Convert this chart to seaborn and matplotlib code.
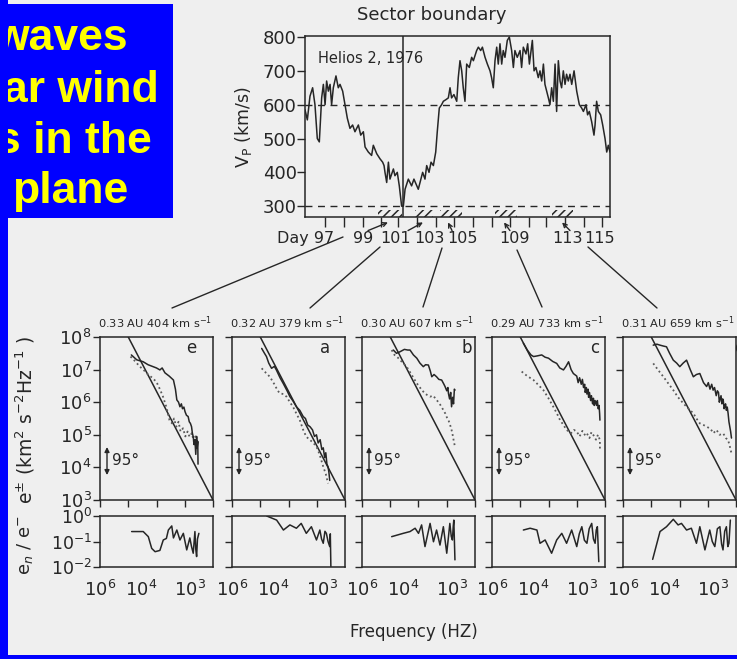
import numpy as np
import matplotlib
matplotlib.use("Agg")
import matplotlib.pyplot as plt
from matplotlib.patches import Rectangle
from matplotlib.lines import Line2D
from matplotlib.ticker import LogLocator, NullFormatter
import seaborn as sns

W, H = 737, 659
BG = "#efefef"
INK = "#262626"
DOT = "#5a5a5a"

# ---------------- top panel : Helios 2 proton speed ----------------
day = [96.00, 96.15, 96.32, 96.49, 96.64, 96.79, 96.92, 97.07, 97.18, 97.29,
       97.39, 97.50, 97.61, 97.71, 97.82, 97.99, 98.14, 98.25, 98.42, 98.57,
       98.72, 98.89, 99.06, 99.21, 99.43, 99.58, 99.75, 99.86, 100.07, 100.28,
       100.39, 100.61, 100.82, 100.99, 101.08, 101.14, 101.25, 101.36, 101.46, 101.68,
       101.78, 101.93, 102.06, 102.21, 102.32, 102.43, 102.64, 102.85, 103.00, 103.28,
       103.39, 103.56, 103.71, 103.82, 103.97, 104.10, 104.25, 104.40, 104.50, 104.63,
       104.78, 104.89, 105.06, 105.21, 105.32, 105.42, 105.57, 105.75, 105.85, 105.96,
       106.07, 106.17, 106.28, 106.39, 106.56, 106.71, 106.82, 107.03, 107.14, 107.29,
       107.40, 107.57, 107.72, 107.89, 107.99, 108.10, 108.21, 108.32, 108.42, 108.53,
       108.64, 108.74, 108.85, 109.00, 109.13, 109.28, 109.39, 109.49, 109.64, 109.82,
       109.92, 110.03, 110.20, 110.31, 110.42, 110.61, 110.72, 110.84, 110.99, 111.10,
       111.21, 111.32, 111.42, 111.53, 111.64, 111.74, 111.85, 111.96, 112.07, 112.17,
       112.28, 112.39, 112.49, 112.60, 112.71, 112.81, 112.92, 113.03, 113.14, 113.29,
       113.46, 113.63, 113.78, 113.89, 114.06, 114.16, 114.27, 114.42, 114.57, 114.64,
       114.74, 114.85, 115.00, 115.13, 115.28, 115.39, 115.49, 115.60]
vp = [585, 555, 625, 650, 600, 500, 490, 620, 660, 600,
      670, 640, 660, 600, 650, 685, 650, 660, 640, 600,
      560, 530, 540, 520, 540, 510, 520, 475, 460, 450,
      480, 455, 440, 430, 420, 400, 370, 430, 380, 410,
      390, 400, 360, 300, 300, 350, 380, 360, 380, 350,
      370, 400, 380, 420, 400, 430, 420, 460, 520, 590,
      600, 610, 615, 620, 650, 620, 630, 610, 680, 730,
      700, 650, 610, 720, 710, 740, 730, 760, 770, 760,
      770, 740, 720, 700, 680, 650, 730, 770, 720, 780,
      720, 760, 740, 790, 800, 760, 710, 760, 740, 760,
      710, 770, 750, 780, 720, 790, 700, 710, 680, 700,
      670, 720, 660, 640, 620, 600, 650, 610, 720, 580,
      730, 670, 650, 700, 660, 690, 670, 690, 660, 700,
      640, 600, 590, 580, 600, 570, 580, 550, 510, 540,
      610, 580, 570, 540, 500, 460, 480, 460]

vp_ticks = [300, 400, 500, 600, 700, 800]
vp_levels = [300, 600]
sector_day = 102.32
day_label_pos = [96.02, 99.76, 101.80, 104.00, 106.15, 109.45, 112.85, 114.96]
day_labels = ["Day 97", "99", "101", "103", "105", "109", "113", "115"]
day_marks = [97.3, 98.5, 99.7, 100.9, 102.0, 103.2, 104.4, 105.6, 106.8, 108.0,
             109.2, 110.4, 111.5, 112.7, 113.9, 115.1]
hatch_start = [100.69, 103.07, 104.67, 108.21, 111.87]
hatch_end = [102.23, 104.22, 106.08, 109.62, 113.22]
arrow_tail_day = [100.05, 102.62, 105.45, 109.17, 113.03]
arrow_head_day = [101.33, 103.58, 105.19, 108.79, 112.52]

# ---------------- spectra (log10 f , log10 e) ----------------
spec_ids = ["e", "a", "b", "c", "d"]
spec_heads = ["0.33 AU 404 km s$^{-1}$", "0.32 AU 379 km s$^{-1}$",
              "0.30 AU 607 km s$^{-1}$", "0.29 AU 733 km s$^{-1}$",
              "0.31 AU 659 km s$^{-1}$"]
letter_x = [0.81, 0.82, 0.93, 0.91, 1.03]

plus_e = [(-4.89, 7.45), (-4.70, 7.30), (-4.47, 7.24), (-4.30, 7.15), (-4.12, 7.09),
          (-4.00, 7.05), (-3.88, 6.99), (-3.80, 7.05), (-3.70, 6.90), (-3.55, 6.80),
          (-3.40, 6.68), (-3.33, 6.40), (-3.28, 6.07), (-3.22, 6.00), (-3.17, 5.86),
          (-3.12, 5.95), (-3.08, 5.80), (-3.03, 5.85), (-2.99, 5.71), (-2.94, 5.60),
          (-2.88, 5.56), (-2.84, 5.40), (-2.80, 5.35), (-2.76, 5.25), (-2.73, 5.05),
          (-2.70, 4.94), (-2.67, 4.70), (-2.64, 4.85), (-2.61, 4.40), (-2.58, 4.95),
          (-2.56, 4.60), (-2.54, 4.80), (-2.53, 4.10)]
minus_e = [(-4.92, 7.40), (-4.75, 7.25), (-4.60, 7.10), (-4.47, 7.00), (-4.30, 6.85),
           (-4.15, 6.75), (-4.00, 6.62), (-3.88, 6.40), (-3.77, 6.17), (-3.65, 5.85),
           (-3.54, 5.45), (-3.45, 5.35), (-3.38, 5.50), (-3.30, 5.25), (-3.22, 5.40),
           (-3.15, 5.10), (-3.06, 5.20), (-2.98, 4.95), (-2.90, 5.10), (-2.83, 4.94),
           (-2.75, 5.05), (-2.68, 4.80), (-2.62, 4.95), (-2.58, 4.74), (-2.55, 4.60)]
plus_a = [(-4.95, 7.65), (-4.85, 7.50), (-4.78, 7.40), (-4.70, 7.20), (-4.60, 7.04),
          (-4.50, 7.10), (-4.43, 6.99), (-4.30, 6.75), (-4.19, 6.58), (-4.05, 6.35),
          (-3.95, 6.17), (-3.85, 6.05), (-3.72, 5.86), (-3.60, 5.75), (-3.48, 5.56),
          (-3.40, 5.50), (-3.32, 5.30), (-3.24, 5.25), (-3.15, 5.15), (-3.08, 4.95),
          (-3.01, 5.00), (-2.95, 4.75), (-2.88, 4.85), (-2.82, 4.55), (-2.77, 4.60),
          (-2.72, 4.30), (-2.68, 4.45), (-2.64, 4.10), (-2.60, 4.02), (-2.57, 3.85),
          (-2.54, 3.60)]
minus_a = [(-4.95, 7.04), (-4.80, 6.90), (-4.66, 6.78), (-4.50, 6.55), (-4.38, 6.35),
           (-4.30, 6.27), (-4.18, 6.25), (-4.07, 6.17), (-3.95, 6.00), (-3.84, 5.86),
           (-3.72, 5.65), (-3.60, 5.45), (-3.48, 5.15), (-3.37, 4.94), (-3.25, 4.85),
           (-3.12, 4.75), (-3.01, 4.64), (-2.90, 4.40), (-2.77, 4.02), (-2.68, 3.80),
           (-2.60, 3.51)]
plus_b = [(-4.89, 7.60), (-4.78, 7.50), (-4.65, 7.55), (-4.50, 7.62), (-4.38, 7.60),
          (-4.30, 7.60), (-4.18, 7.45), (-4.06, 7.35), (-3.95, 7.20), (-3.83, 7.09),
          (-3.75, 7.15), (-3.65, 7.14), (-3.58, 6.95), (-3.53, 6.78), (-3.45, 6.85),
          (-3.36, 6.78), (-3.28, 6.70), (-3.18, 6.68), (-3.10, 6.55), (-3.06, 6.48),
          (-3.00, 6.35), (-2.96, 6.45), (-2.94, 6.27), (-2.90, 6.10), (-2.86, 6.30),
          (-2.83, 5.86), (-2.79, 6.15), (-2.76, 5.95), (-2.73, 6.40), (-2.71, 6.37)]
minus_b = [(-4.95, 7.60), (-4.85, 7.45), (-4.71, 7.35), (-4.55, 7.20), (-4.42, 7.09),
           (-4.25, 6.85), (-4.06, 6.58), (-3.88, 6.37), (-3.75, 6.25), (-3.59, 6.17),
           (-3.48, 6.20), (-3.36, 6.07), (-3.25, 5.95), (-3.12, 5.76), (-3.05, 5.65),
           (-2.98, 5.50), (-2.94, 5.45), (-2.88, 5.30), (-2.83, 5.15), (-2.78, 4.95),
           (-2.75, 4.80), (-2.71, 4.64)]
plus_c = [(-4.89, 7.81), (-4.75, 7.60), (-4.62, 7.45), (-4.53, 7.40), (-4.40, 7.42),
          (-4.24, 7.45), (-4.12, 7.38), (-4.00, 7.35), (-3.85, 7.25), (-3.71, 7.19),
          (-3.60, 7.05), (-3.47, 6.99), (-3.38, 7.10), (-3.29, 7.24), (-3.20, 7.00),
          (-3.12, 6.88), (-3.00, 6.80), (-2.95, 6.60), (-2.90, 6.75), (-2.84, 6.55),
          (-2.80, 6.70), (-2.76, 6.45), (-2.72, 6.55), (-2.70, 6.30), (-2.66, 6.45),
          (-2.64, 6.25), (-2.60, 6.40), (-2.58, 6.15), (-2.55, 6.30), (-2.51, 6.05),
          (-2.48, 6.20), (-2.44, 5.95), (-2.41, 6.12), (-2.38, 5.90), (-2.35, 6.05),
          (-2.30, 5.90), (-2.27, 6.05), (-2.24, 5.80), (-2.21, 5.90), (-2.19, 5.65),
          (-2.18, 5.45)]
minus_c = [(-4.95, 6.94), (-4.75, 6.80), (-4.53, 6.68), (-4.35, 6.52), (-4.18, 6.37),
           (-4.00, 6.12), (-3.83, 5.86), (-3.70, 5.65), (-3.59, 5.45), (-3.47, 5.30),
           (-3.36, 5.15), (-3.20, 5.05), (-3.10, 5.15), (-3.00, 5.10), (-2.90, 4.95),
           (-2.80, 5.12), (-2.70, 4.98), (-2.64, 5.04), (-2.55, 4.90), (-2.48, 5.08),
           (-2.41, 4.99), (-2.32, 4.85), (-2.25, 5.00), (-2.18, 4.84), (-2.18, 4.50)]
plus_d = [(-4.93, 7.75), (-4.80, 7.78), (-4.69, 7.75), (-4.56, 7.72), (-4.46, 7.70),
          (-4.35, 7.50), (-4.22, 7.29), (-4.10, 7.20), (-3.99, 7.09), (-3.87, 7.20),
          (-3.75, 7.29), (-3.62, 7.00), (-3.51, 6.78), (-3.40, 6.85), (-3.28, 6.88),
          (-3.15, 6.60), (-3.04, 6.48), (-2.98, 6.60), (-2.92, 6.40), (-2.86, 6.55),
          (-2.81, 6.37), (-2.76, 6.45), (-2.70, 6.20), (-2.66, 6.35), (-2.62, 6.30),
          (-2.59, 6.00), (-2.57, 6.07), (-2.53, 6.20), (-2.50, 5.95), (-2.47, 6.10),
          (-2.45, 6.05), (-2.42, 5.80), (-2.40, 5.86), (-2.37, 5.95), (-2.34, 5.75),
          (-2.31, 5.85), (-2.28, 5.66), (-2.25, 5.40), (-2.22, 5.25), (-2.19, 5.10),
          (-2.16, 4.90)]
minus_d = [(-4.93, 7.19), (-4.75, 6.98), (-4.57, 6.78), (-4.40, 6.58), (-4.22, 6.37),
           (-4.05, 6.15), (-3.86, 5.96), (-3.68, 5.80), (-3.51, 5.66), (-3.40, 5.50),
           (-3.28, 5.35), (-3.15, 5.30), (-3.04, 5.25), (-2.90, 5.18), (-2.80, 5.05),
           (-2.69, 5.15), (-2.58, 5.00), (-2.45, 5.04), (-2.36, 4.90), (-2.28, 4.84),
           (-2.22, 4.65), (-2.16, 4.43)]

# ratio e_n / e^- (log10 f , log10 ratio)
ratio_e = [(-4.88, -0.61), (-4.47, -0.61), (-4.29, -0.81), (-4.17, -1.27), (-4.05, -1.40),
           (-3.88, -1.35), (-3.76, -0.94), (-3.65, -0.88), (-3.58, -0.55), (-3.46, -0.39),
           (-3.40, -0.86), (-3.28, -0.55), (-3.17, -0.94), (-3.05, -0.68), (-2.93, -1.33),
           (-2.82, -0.86), (-2.76, -1.20), (-2.70, -1.46), (-2.64, -0.61), (-2.61, -1.30),
           (-2.58, -1.59), (-2.55, -0.90), (-2.50, -0.68)]
ratio_a = [(-4.77, 0.00), (-4.42, -0.16), (-4.18, -0.55), (-3.95, -0.35), (-3.72, -0.48),
           (-3.55, -0.29), (-3.37, -0.68), (-3.19, -0.42), (-3.01, -0.94), (-2.89, -0.55),
           (-2.83, -0.90), (-2.77, -1.07), (-2.71, -0.60), (-2.66, -0.68), (-2.60, -1.00),
           (-2.54, -1.20), (-2.52, -0.70), (-2.50, -1.98)]
ratio_b = [(-4.95, -0.81), (-4.54, -0.68), (-4.30, -0.61), (-4.12, -0.48), (-4.00, -0.68),
           (-3.89, -0.35), (-3.77, -1.20), (-3.59, -0.29), (-3.47, -1.01), (-3.36, -0.55),
           (-3.24, -1.14), (-3.12, -0.42), (-3.00, -1.46), (-2.89, -0.29), (-2.84, -0.80),
           (-2.80, -0.94), (-2.77, -0.40), (-2.75, -0.16), (-2.71, -1.72)]
ratio_c = [(-4.89, -0.55), (-4.65, -0.48), (-4.41, -0.55), (-4.30, -1.07), (-4.12, -0.94),
           (-3.89, -1.46), (-3.71, -0.94), (-3.53, -0.68), (-3.36, -1.07), (-3.18, -0.55),
           (-3.00, -1.20), (-2.91, -0.70), (-2.82, -0.42), (-2.73, -0.95), (-2.64, -1.07),
           (-2.56, -0.50), (-2.47, -0.29), (-2.41, -0.90), (-2.35, -1.07), (-2.31, -0.55),
           (-2.27, -0.42), (-2.22, -1.79)]
ratio_d = [(-4.95, -1.70), (-4.69, -0.61), (-4.46, -0.42), (-4.22, -0.13), (-4.05, -0.35),
           (-3.93, -0.29), (-3.75, -0.55), (-3.58, -0.48), (-3.40, -1.07), (-3.28, -0.42),
           (-3.10, -1.33), (-2.93, -0.55), (-2.84, -1.00), (-2.75, -1.20), (-2.66, -0.50),
           (-2.57, -0.42), (-2.51, -1.10), (-2.46, -1.33), (-2.40, -0.60), (-2.34, -0.42),
           (-2.29, -1.20), (-2.25, -1.07), (-2.20, -0.16)]

plus_spec = [plus_e, plus_a, plus_b, plus_c, plus_d]
minus_spec = [minus_e, minus_a, minus_b, minus_c, minus_d]
ratio_spec = [ratio_e, ratio_a, ratio_b, ratio_c, ratio_d]

# f^-5/3 reference line end points
ref_f = [1e-5, 1e-2]
ref_e = [1e8, 1e3]

e_ticks = [1e3, 1e4, 1e5, 1e6, 1e7, 1e8]
e_labels = ["10$^3$", "10$^4$", "10$^5$", "10$^6$", "10$^7$", "10$^8$"]
r_ticks = [1e-2, 1e-1, 1e0]
r_labels = ["10$^{-2}$", "10$^{-1}$", "10$^0$"]
f_label_pos = [1.02e-6, 2.8e-5, 1.55e-3]
f_labels = ["10$^6$", "10$^4$", "10$^3$"]

title_lines = ["waves", "ar wind", "s in the", "plane"]


def fig_box(left, top, right, bottom):
    """Pixel box -> figure fraction rectangle."""
    return [left / W, 1 - bottom / H, (right - left) / W, (bottom - top) / H]


sns.set_theme(style="ticks", rc={
    "axes.facecolor": BG,
    "figure.facecolor": BG,
    "axes.edgecolor": INK,
    "axes.linewidth": 1.1,
    "xtick.color": INK,
    "ytick.color": INK,
    "text.color": INK,
    "hatch.linewidth": 1.1,
})
plt.rcParams["font.family"] = ["DejaVu Sans"]
plt.rcParams["mathtext.fontset"] = "dejavusans"

fig = plt.figure(figsize=(W / 100, H / 100), dpi=100)

# ---- top time series ----
ax = fig.add_axes(fig_box(305, 36, 610, 217))
sns.lineplot(x=day, y=vp, ax=ax, color=INK, lw=1.1, estimator=None, sort=False)
for lev in vp_levels:
    ax.axhline(lev, color=INK, lw=1.0, dashes=(5, 4))
ax.axvline(sector_day, color=INK, lw=1.1)
ax.set_xlim(96.0, 115.6)
ax.set_ylim(268, 803)
ax.set_yticks(vp_ticks)
ax.set_xticks(day_label_pos, day_labels)
ax.set_xticks(day_marks, minor=True)
ax.tick_params(axis="x", which="major", length=0, labelsize=11.5, pad=10)
ax.tick_params(axis="x", which="minor", length=7, width=1, direction="out")
ax.tick_params(axis="y", labelsize=13, length=6, width=1, direction="out", pad=0)
ax.set_xlabel("")
ax.set_ylabel("")
trans = ax.get_xaxis_transform()
for s, e in zip(hatch_start, hatch_end):
    ax.add_patch(Rectangle((s, 0), e - s, 0.04, transform=trans, fill=False,
                           hatch="////", lw=0, edgecolor=INK))
for t, h in zip(arrow_tail_day, arrow_head_day):
    ax.annotate("", xy=(h, -0.03), xycoords=trans, xytext=(t, -0.075),
                textcoords=trans, annotation_clip=False,
                arrowprops=dict(arrowstyle="->", lw=1, color=INK,
                                shrinkA=0, shrinkB=0, mutation_scale=7))
ax.text(0.043, 0.873, "Helios 2, 1976", transform=ax.transAxes, fontsize=10.5,
        ha="left", va="center")
fig.text(432 / W, 1 - 15 / H, "Sector boundary", fontsize=13, ha="center", va="center")
fig.text(243 / W, 1 - 127 / H, "V$_\\mathrm{P}$ (km/s)", fontsize=12.5, rotation=90,
         ha="center", va="center")

# ---- connectors from the time series to the spectra ----
connectors = [((343, 237), (172, 308)), ((380, 247), (310, 308)),
              ((442, 248), (423, 307)), ((517, 250), (542, 307)),
              ((588, 247), (657, 308))]
for (x0, y0), (x1, y1) in connectors:
    fig.add_artist(Line2D([x0 / W, x1 / W], [1 - y0 / H, 1 - y1 / H],
                          transform=fig.transFigure, color=INK, lw=1.0))

# ---- spectra and ratio panels ----
spec_left = [100, 232, 362, 492, 623]
for i, left in enumerate(spec_left):
    sa = fig.add_axes(fig_box(left, 337, left + 113, 500))
    sa.set_xscale("log")
    sa.set_yscale("log")
    pf, pe = zip(*plus_spec[i])
    mf, me = zip(*minus_spec[i])
    sns.lineplot(x=ref_f, y=ref_e, ax=sa, color=INK, lw=1.1, estimator=None, sort=False)
    sns.lineplot(x=np.power(10.0, mf), y=np.power(10.0, me), ax=sa, color=DOT,
                 lw=1.3, linestyle=(0, (1, 1.6)), estimator=None, sort=False)
    sns.lineplot(x=np.power(10.0, pf), y=np.power(10.0, pe), ax=sa, color=INK,
                 lw=1.1, estimator=None, sort=False)
    sa.set_xlim(1e-6, 1e-2)
    sa.set_ylim(1e3, 1e8)
    sa.set_xticks([1e-6, 1e-5, 1e-4, 1e-3, 1e-2])
    sa.set_xticklabels([])
    sa.xaxis.set_minor_locator(LogLocator(base=10, subs=np.arange(2, 10)))
    sa.xaxis.set_minor_formatter(NullFormatter())
    sa.set_yticks(e_ticks)
    sa.yaxis.set_minor_locator(LogLocator(base=10, subs=np.arange(2, 10)))
    sa.yaxis.set_minor_formatter(NullFormatter())
    if i == 0:
        sa.set_yticklabels(e_labels)
    else:
        sa.set_yticklabels([])
    sa.tick_params(which="major", length=5, width=1, direction="out", labelsize=13, pad=1)
    sa.tick_params(which="minor", length=2.5, width=0.8, direction="out")
    sa.set_xlabel("")
    sa.set_ylabel("")
    sa.text(letter_x[i], 0.93, spec_ids[i], transform=sa.transAxes, fontsize=12,
            ha="center", va="center", clip_on=False)
    sa.text(-0.02, 1.085, spec_heads[i], transform=sa.transAxes, fontsize=8.2,
            ha="left", va="center")
    sa.annotate("", xy=(0.062, 0.153), xytext=(0.062, 0.325), xycoords="axes fraction",
                arrowprops=dict(arrowstyle="<|-|>", lw=1, color=INK,
                                shrinkA=0, shrinkB=0, mutation_scale=7))
    sa.text(0.11, 0.24, "95°", transform=sa.transAxes, fontsize=11,
            ha="left", va="center")

    ra = fig.add_axes(fig_box(left, 516, left + 113, 567))
    ra.set_xscale("log")
    ra.set_yscale("log")
    rf, rr = zip(*ratio_spec[i])
    sns.lineplot(x=np.power(10.0, rf), y=np.power(10.0, rr), ax=ra, color=INK,
                 lw=1.1, estimator=None, sort=False)
    ra.set_xlim(1e-6, 1e-2)
    ra.set_ylim(1e-2, 1e0)
    ra.set_xticks(f_label_pos, f_labels)
    ra.xaxis.set_minor_locator(LogLocator(base=10, subs=np.arange(1, 10)))
    ra.xaxis.set_minor_formatter(NullFormatter())
    ra.set_yticks(r_ticks)
    ra.yaxis.set_minor_locator(plt.NullLocator())
    if i == 0:
        ra.set_yticklabels(r_labels)
    else:
        ra.set_yticklabels([])
    ra.tick_params(axis="x", which="major", length=0, labelsize=13, pad=9)
    ra.tick_params(axis="x", which="minor", length=2.5, width=0.8, direction="out")
    ra.tick_params(axis="y", length=5, width=1, direction="out", labelsize=12.5, pad=1)
    ra.set_xlabel("")
    ra.set_ylabel("")

fig.text(25 / W, 1 - 420 / H, "e$^{\\pm}$ (km$^2$ s$^{-2}$Hz$^{-1}$ )", fontsize=13.5,
         rotation=90, ha="center", va="center")
fig.text(25 / W, 1 - 545 / H, "e$_n$ / e$^{-}$", fontsize=13, rotation=90,
         ha="center", va="center")
fig.text(414 / W, 1 - 632 / H, "Frequency (HZ)", fontsize=12, ha="center", va="center")

# ---- slide decoration: blue frame and clipped title box ----
fig.add_artist(Rectangle((0, 0), 8 / W, 1, transform=fig.transFigure,
                         color="#0000ff", lw=0, zorder=5))
fig.add_artist(Rectangle((0, 0), 1, 4 / H, transform=fig.transFigure,
                         color="#0000ff", lw=0, zorder=5))
box = fig.add_axes(fig_box(0, 4, 173, 218))
box.set_facecolor("#0000ff")
box.set_xticks([])
box.set_yticks([])
for sp in box.spines.values():
    sp.set_visible(False)
line_x = [0.740, 0.919, 0.879, 0.740]
line_y = [0.785, 0.542, 0.304, 0.070]
for txt, tx, ty in zip(title_lines, line_x, line_y):
    box.text(tx, ty, txt, transform=box.transAxes, ha="right", va="baseline",
             fontsize=32, fontweight="bold", color="#ffff00",
             family=["Liberation Sans", "DejaVu Sans"], clip_on=True)

fig.savefig("out.png", dpi=100, facecolor=BG)
plt.close(fig)
